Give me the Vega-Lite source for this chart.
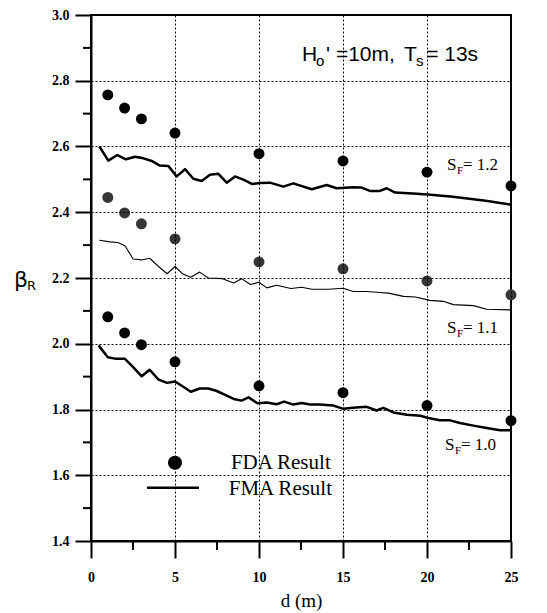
{
  "$schema": "https://vega.github.io/schema/vega-lite/v6.json",
  "width": 420,
  "height": 526,
  "autosize": {"type": "none"},
  "padding": {"left": 91, "top": 15, "right": 36, "bottom": 72},
  "background": "white",
  "config": {
    "view": {"stroke": "black", "strokeWidth": 2}
  },
  "datasets": {
    "fda": [
      {"d": 1, "beta": 2.757, "sf": "1.2"}, {"d": 2, "beta": 2.717, "sf": "1.2"}, {"d": 3, "beta": 2.684, "sf": "1.2"}, {"d": 5, "beta": 2.641, "sf": "1.2"},
      {"d": 10, "beta": 2.578, "sf": "1.2"}, {"d": 15, "beta": 2.556, "sf": "1.2"}, {"d": 20, "beta": 2.522, "sf": "1.2"}, {"d": 25, "beta": 2.48, "sf": "1.2"},
      {"d": 1, "beta": 2.445, "sf": "1.1"}, {"d": 2, "beta": 2.398, "sf": "1.1"}, {"d": 3, "beta": 2.365, "sf": "1.1"}, {"d": 5, "beta": 2.319, "sf": "1.1"},
      {"d": 10, "beta": 2.249, "sf": "1.1"}, {"d": 15, "beta": 2.228, "sf": "1.1"}, {"d": 20, "beta": 2.191, "sf": "1.1"}, {"d": 25, "beta": 2.149, "sf": "1.1"},
      {"d": 1, "beta": 2.082, "sf": "1.0"}, {"d": 2, "beta": 2.033, "sf": "1.0"}, {"d": 3, "beta": 1.997, "sf": "1.0"}, {"d": 5, "beta": 1.945, "sf": "1.0"},
      {"d": 10, "beta": 1.872, "sf": "1.0"}, {"d": 15, "beta": 1.851, "sf": "1.0"}, {"d": 20, "beta": 1.812, "sf": "1.0"}, {"d": 25, "beta": 1.766, "sf": "1.0"}
    ],
    "fma": [
      {"d": 0.5, "beta": 2.6, "sf": "1.2"}, {"d": 1.03, "beta": 2.557, "sf": "1.2"}, {"d": 1.57, "beta": 2.574, "sf": "1.2"}, {"d": 2.08, "beta": 2.561, "sf": "1.2"},
      {"d": 2.62, "beta": 2.569, "sf": "1.2"}, {"d": 3.12, "beta": 2.564, "sf": "1.2"}, {"d": 3.61, "beta": 2.556, "sf": "1.2"}, {"d": 4.1, "beta": 2.542, "sf": "1.2"},
      {"d": 4.6, "beta": 2.541, "sf": "1.2"}, {"d": 5.1, "beta": 2.509, "sf": "1.2"}, {"d": 5.6, "beta": 2.531, "sf": "1.2"}, {"d": 6.09, "beta": 2.502, "sf": "1.2"},
      {"d": 6.59, "beta": 2.495, "sf": "1.2"}, {"d": 7.08, "beta": 2.514, "sf": "1.2"}, {"d": 7.58, "beta": 2.517, "sf": "1.2"}, {"d": 8.08, "beta": 2.49, "sf": "1.2"},
      {"d": 8.57, "beta": 2.509, "sf": "1.2"}, {"d": 9.07, "beta": 2.499, "sf": "1.2"}, {"d": 9.57, "beta": 2.486, "sf": "1.2"}, {"d": 10.06, "beta": 2.489, "sf": "1.2"},
      {"d": 10.65, "beta": 2.49, "sf": "1.2"}, {"d": 11.45, "beta": 2.478, "sf": "1.2"}, {"d": 12.04, "beta": 2.488, "sf": "1.2"}, {"d": 13.14, "beta": 2.47, "sf": "1.2"},
      {"d": 14.03, "beta": 2.483, "sf": "1.2"}, {"d": 14.62, "beta": 2.473, "sf": "1.2"}, {"d": 15.61, "beta": 2.476, "sf": "1.2"}, {"d": 16.1, "beta": 2.475, "sf": "1.2"},
      {"d": 16.6, "beta": 2.465, "sf": "1.2"}, {"d": 17.2, "beta": 2.465, "sf": "1.2"}, {"d": 17.6, "beta": 2.473, "sf": "1.2"}, {"d": 18.1, "beta": 2.46, "sf": "1.2"},
      {"d": 19.4, "beta": 2.456, "sf": "1.2"}, {"d": 20.2, "beta": 2.453, "sf": "1.2"}, {"d": 21.4, "beta": 2.448, "sf": "1.2"}, {"d": 22.4, "beta": 2.442, "sf": "1.2"},
      {"d": 23.5, "beta": 2.435, "sf": "1.2"}, {"d": 25, "beta": 2.423, "sf": "1.2"},
      {"d": 0.5, "beta": 2.315, "sf": "1.1"}, {"d": 1.13, "beta": 2.31, "sf": "1.1"}, {"d": 1.6, "beta": 2.308, "sf": "1.1"}, {"d": 2.02, "beta": 2.298, "sf": "1.1"},
      {"d": 2.51, "beta": 2.258, "sf": "1.1"}, {"d": 3.02, "beta": 2.255, "sf": "1.1"}, {"d": 3.49, "beta": 2.26, "sf": "1.1"}, {"d": 4.02, "beta": 2.235, "sf": "1.1"},
      {"d": 4.53, "beta": 2.213, "sf": "1.1"}, {"d": 5.0, "beta": 2.235, "sf": "1.1"}, {"d": 5.47, "beta": 2.212, "sf": "1.1"}, {"d": 5.94, "beta": 2.202, "sf": "1.1"},
      {"d": 6.47, "beta": 2.218, "sf": "1.1"}, {"d": 6.98, "beta": 2.2, "sf": "1.1"}, {"d": 7.83, "beta": 2.198, "sf": "1.1"}, {"d": 8.49, "beta": 2.185, "sf": "1.1"},
      {"d": 8.96, "beta": 2.198, "sf": "1.1"}, {"d": 9.49, "beta": 2.18, "sf": "1.1"}, {"d": 10.0, "beta": 2.187, "sf": "1.1"}, {"d": 10.47, "beta": 2.17, "sf": "1.1"},
      {"d": 11.04, "beta": 2.178, "sf": "1.1"}, {"d": 11.9, "beta": 2.168, "sf": "1.1"}, {"d": 12.54, "beta": 2.172, "sf": "1.1"}, {"d": 13.14, "beta": 2.166, "sf": "1.1"},
      {"d": 14.13, "beta": 2.166, "sf": "1.1"}, {"d": 15.02, "beta": 2.169, "sf": "1.1"}, {"d": 15.61, "beta": 2.159, "sf": "1.1"}, {"d": 16.41, "beta": 2.159, "sf": "1.1"},
      {"d": 17.2, "beta": 2.156, "sf": "1.1"}, {"d": 17.7, "beta": 2.154, "sf": "1.1"}, {"d": 18.6, "beta": 2.144, "sf": "1.1"}, {"d": 19.3, "beta": 2.142, "sf": "1.1"},
      {"d": 20.18, "beta": 2.132, "sf": "1.1"}, {"d": 20.97, "beta": 2.129, "sf": "1.1"}, {"d": 21.57, "beta": 2.119, "sf": "1.1"}, {"d": 22.76, "beta": 2.116, "sf": "1.1"},
      {"d": 23.55, "beta": 2.105, "sf": "1.1"}, {"d": 24.94, "beta": 2.103, "sf": "1.1"},
      {"d": 0.45, "beta": 1.995, "sf": "1.0"}, {"d": 1.0, "beta": 1.959, "sf": "1.0"}, {"d": 1.51, "beta": 1.954, "sf": "1.0"}, {"d": 2.02, "beta": 1.954, "sf": "1.0"},
      {"d": 2.51, "beta": 1.929, "sf": "1.0"}, {"d": 3.02, "beta": 1.901, "sf": "1.0"}, {"d": 3.49, "beta": 1.921, "sf": "1.0"}, {"d": 4.02, "beta": 1.891, "sf": "1.0"},
      {"d": 4.53, "beta": 1.881, "sf": "1.0"}, {"d": 5.0, "beta": 1.885, "sf": "1.0"}, {"d": 5.47, "beta": 1.87, "sf": "1.0"}, {"d": 5.94, "beta": 1.854, "sf": "1.0"},
      {"d": 6.47, "beta": 1.864, "sf": "1.0"}, {"d": 6.98, "beta": 1.864, "sf": "1.0"}, {"d": 7.45, "beta": 1.857, "sf": "1.0"}, {"d": 8.02, "beta": 1.844, "sf": "1.0"},
      {"d": 8.49, "beta": 1.832, "sf": "1.0"}, {"d": 8.96, "beta": 1.827, "sf": "1.0"}, {"d": 9.38, "beta": 1.837, "sf": "1.0"}, {"d": 9.91, "beta": 1.819, "sf": "1.0"},
      {"d": 10.47, "beta": 1.821, "sf": "1.0"}, {"d": 11.04, "beta": 1.816, "sf": "1.0"}, {"d": 11.5, "beta": 1.824, "sf": "1.0"}, {"d": 12.04, "beta": 1.815, "sf": "1.0"},
      {"d": 12.54, "beta": 1.82, "sf": "1.0"}, {"d": 13.04, "beta": 1.815, "sf": "1.0"}, {"d": 13.6, "beta": 1.815, "sf": "1.0"}, {"d": 14.42, "beta": 1.812, "sf": "1.0"},
      {"d": 15.02, "beta": 1.802, "sf": "1.0"}, {"d": 15.6, "beta": 1.805, "sf": "1.0"}, {"d": 16.41, "beta": 1.808, "sf": "1.0"}, {"d": 17.0, "beta": 1.797, "sf": "1.0"},
      {"d": 17.4, "beta": 1.805, "sf": "1.0"}, {"d": 18.0, "beta": 1.791, "sf": "1.0"}, {"d": 18.8, "beta": 1.784, "sf": "1.0"}, {"d": 19.6, "beta": 1.781, "sf": "1.0"},
      {"d": 20.08, "beta": 1.774, "sf": "1.0"}, {"d": 20.77, "beta": 1.767, "sf": "1.0"}, {"d": 21.37, "beta": 1.767, "sf": "1.0"}, {"d": 21.96, "beta": 1.759, "sf": "1.0"},
      {"d": 22.76, "beta": 1.751, "sf": "1.0"}, {"d": 23.55, "beta": 1.744, "sf": "1.0"}, {"d": 24.35, "beta": 1.737, "sf": "1.0"}, {"d": 24.94, "beta": 1.737, "sf": "1.0"}
    ],
    "yminor": [{"v": 1.5}, {"v": 1.7}, {"v": 1.9}, {"v": 2.1}, {"v": 2.3}, {"v": 2.5}, {"v": 2.7}, {"v": 2.9}],
    "xminor": [{"v": 2.5}, {"v": 7.5}, {"v": 12.5}, {"v": 17.5}, {"v": 22.5}],
    "sflabels": [
      {"d": 21.19, "beta": 2.527, "val": "= 1.2"},
      {"d": 21.19, "beta": 2.033, "val": "= 1.1"},
      {"d": 21.07, "beta": 1.676, "val": "= 1.0"}
    ],
    "title": [
      {"d": 12.56, "beta": 2.86, "txt": "H", "sub": false},
      {"d": 13.4, "beta": 2.86, "txt": "o", "sub": true},
      {"d": 13.99, "beta": 2.86, "txt": "' =10m,", "sub": false},
      {"d": 18.63, "beta": 2.86, "txt": "T", "sub": false},
      {"d": 19.35, "beta": 2.86, "txt": "s", "sub": true},
      {"d": 19.95, "beta": 2.86, "txt": "= 13s", "sub": false}
    ],
    "legendtext": [
      {"d": 8.33, "beta": 1.638, "txt": "FDA Result"},
      {"d": 8.2, "beta": 1.559, "txt": "FMA Result"}
    ]
  },
  "layer": [
    {
      "data": {"name": "fma"},
      "mark": {"type": "line", "color": "black", "strokeJoin": "round"},
      "encoding": {
        "x": {
          "field": "d", "type": "quantitative",
          "scale": {"domain": [0, 25], "nice": false, "zero": false},
          "axis": {
            "title": "d (m)", "titleFont": "Liberation Serif", "titleFontSize": 19, "titleFontWeight": "normal", "titleColor": "black", "titlePadding": 7,
            "values": [0, 5, 10, 15, 20, 25],
            "format": "d",
            "labelFont": "Liberation Serif", "labelFontWeight": "bold", "labelFontSize": 14, "labelColor": "black", "labelPadding": 12, "labelFlush": false,
            "tickSize": 17, "tickWidth": 2, "tickColor": "black",
            "domainColor": "black", "domainWidth": 2,
            "grid": true, "gridColor": "black", "gridDash": [2, 2], "gridWidth": 1,
            "zindex": 1
          }
        },
        "y": {
          "field": "beta", "type": "quantitative",
          "scale": {"domain": [1.4, 3.0], "nice": false, "zero": false},
          "axis": {
            "title": null,
            "values": [1.4, 1.6, 1.8, 2.0, 2.2, 2.4, 2.6, 2.8, 3.0],
            "format": ".1f",
            "labelFont": "Liberation Serif", "labelFontWeight": "bold", "labelFontSize": 14, "labelColor": "black", "labelPadding": 6, "labelFlush": false,
            "tickSize": 16, "tickWidth": 2, "tickColor": "black",
            "domainColor": "black", "domainWidth": 2,
            "grid": true, "gridColor": "black", "gridDash": [2, 2], "gridWidth": 1,
            "zindex": 1
          }
        },
        "detail": {"field": "sf", "type": "nominal"},
        "strokeWidth": {"field": "sf", "type": "nominal", "scale": {"type": "ordinal", "domain": ["1.0", "1.1", "1.2"], "range": [2.5, 1.1, 2.5]}, "legend": null}
      }
    },
    {
      "data": {"name": "fda"},
      "mark": {"type": "point", "filled": true, "opacity": 1, "size": 120},
      "encoding": {
        "x": {"field": "d", "type": "quantitative"},
        "y": {"field": "beta", "type": "quantitative"},
        "color": {"field": "sf", "type": "nominal", "scale": {"domain": ["1.0", "1.1", "1.2"], "range": ["black", "#363636", "black"]}, "legend": null}
      }
    },
    {
      "data": {"values": [{}]},
      "mark": {"type": "rect", "color": "white"},
      "encoding": {
        "x": {"datum": 8.0, "type": "quantitative"},
        "x2": {"datum": 14.6},
        "y": {"datum": 1.672, "type": "quantitative"},
        "y2": {"datum": 1.535}
      }
    },
    {
      "data": {"values": [{}]},
      "mark": {"type": "point", "filled": true, "opacity": 1, "size": 200, "color": "black"},
      "encoding": {
        "x": {"datum": 5, "type": "quantitative"},
        "y": {"datum": 1.638, "type": "quantitative"}
      }
    },
    {
      "data": {"values": [{}]},
      "mark": {"type": "rule", "color": "black", "strokeWidth": 2.5},
      "encoding": {
        "x": {"datum": 3.33, "type": "quantitative"},
        "x2": {"datum": 6.43},
        "y": {"datum": 1.562, "type": "quantitative"}
      }
    },
    {
      "data": {"name": "legendtext"},
      "mark": {"type": "text", "align": "left", "baseline": "middle", "font": "Liberation Serif", "fontSize": 21, "color": "black"},
      "encoding": {
        "x": {"field": "d", "type": "quantitative"},
        "y": {"field": "beta", "type": "quantitative"},
        "text": {"field": "txt"}
      }
    },
    {
      "data": {"name": "sflabels"},
      "mark": {"type": "text", "align": "left", "baseline": "alphabetic", "font": "Liberation Serif", "fontSize": 17, "color": "black"},
      "encoding": {"x": {"field": "d", "type": "quantitative"}, "y": {"field": "beta", "type": "quantitative"}, "text": {"value": "S"}}
    },
    {
      "data": {"name": "sflabels"},
      "mark": {"type": "text", "align": "left", "baseline": "alphabetic", "font": "Liberation Serif", "fontSize": 11, "dx": 10, "dy": 4, "color": "black"},
      "encoding": {"x": {"field": "d", "type": "quantitative"}, "y": {"field": "beta", "type": "quantitative"}, "text": {"value": "F"}}
    },
    {
      "data": {"name": "sflabels"},
      "mark": {"type": "text", "align": "left", "baseline": "alphabetic", "font": "Liberation Serif", "fontSize": 17, "dx": 16, "color": "black"},
      "encoding": {"x": {"field": "d", "type": "quantitative"}, "y": {"field": "beta", "type": "quantitative"}, "text": {"field": "val"}}
    },
    {
      "data": {"name": "title"},
      "transform": [{"filter": "!datum.sub"}],
      "mark": {"type": "text", "align": "left", "baseline": "alphabetic", "font": "Liberation Sans", "fontSize": 21, "color": "black"},
      "encoding": {"x": {"field": "d", "type": "quantitative"}, "y": {"field": "beta", "type": "quantitative"}, "text": {"field": "txt"}}
    },
    {
      "data": {"name": "title"},
      "transform": [{"filter": "datum.sub"}],
      "mark": {"type": "text", "align": "left", "baseline": "alphabetic", "font": "Liberation Sans", "fontSize": 15, "dy": 5, "color": "black"},
      "encoding": {"x": {"field": "d", "type": "quantitative"}, "y": {"field": "beta", "type": "quantitative"}, "text": {"field": "txt"}}
    },
    {
      "data": {"values": [{}]},
      "mark": {"type": "text", "align": "center", "baseline": "middle", "font": "DejaVu Sans", "fontSize": 22, "color": "black"},
      "encoding": {"x": {"datum": -4.17, "type": "quantitative"}, "y": {"datum": 2.195, "type": "quantitative"}, "text": {"value": "β"}}
    },
    {
      "data": {"values": [{}]},
      "mark": {"type": "text", "align": "left", "baseline": "middle", "font": "DejaVu Sans", "fontSize": 13, "color": "black"},
      "encoding": {"x": {"datum": -3.81, "type": "quantitative"}, "y": {"datum": 2.176, "type": "quantitative"}, "text": {"value": "R"}}
    },
    {
      "data": {"name": "yminor"},
      "mark": {"type": "rule", "color": "black", "strokeWidth": 2, "clip": false},
      "encoding": {
        "x": {"datum": -0.476, "type": "quantitative"},
        "x2": {"datum": 0},
        "y": {"field": "v", "type": "quantitative"}
      }
    },
    {
      "data": {"name": "xminor"},
      "mark": {"type": "rule", "color": "black", "strokeWidth": 2, "clip": false},
      "encoding": {
        "x": {"field": "v", "type": "quantitative"},
        "y": {"datum": 1.3726, "type": "quantitative"},
        "y2": {"datum": 1.4}
      }
    }
  ]
}
